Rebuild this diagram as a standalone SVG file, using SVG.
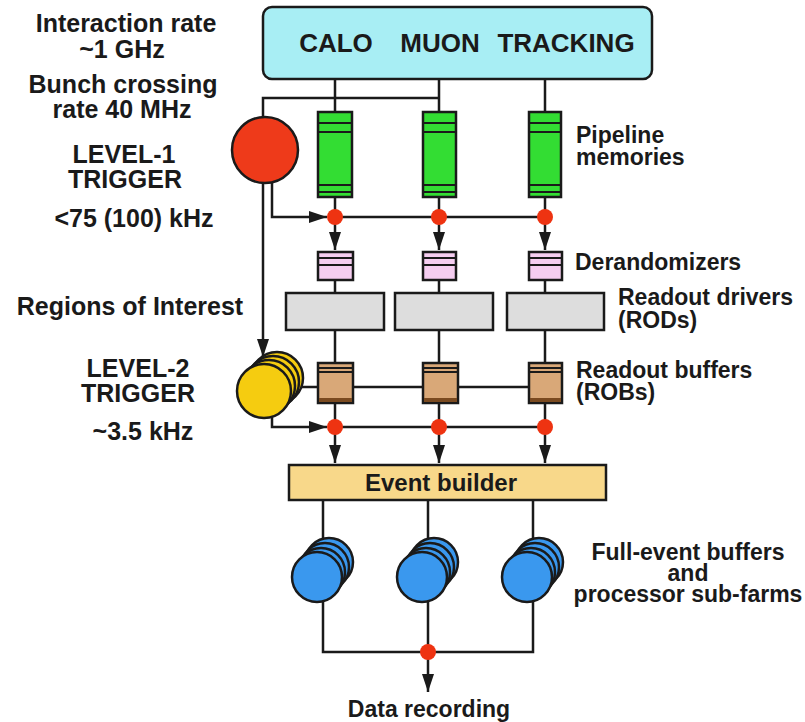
<svg xmlns="http://www.w3.org/2000/svg" width="805" height="722" viewBox="0 0 805 722">
<defs>
<style>
text{font-family:"Liberation Sans",Arial,sans-serif;font-weight:bold;fill:#1a1a1a}
.l{font-size:25px;text-anchor:middle}
.r{font-size:23px}
.ln{stroke:#1a1a1a;stroke-width:2.5;fill:none}
.bx{stroke:#1a1a1a;stroke-width:2.5}
.pipe{fill:#33dd33}
.der{fill:#f5cdf0}
.rod{fill:#dddddd}
.rob{fill:#d9a878}
.dot{fill:#ee3311}
.yel{fill:#f5cc10;stroke:#1a1a1a;stroke-width:2.5}
.blu{fill:#3a98ee;stroke:#1a1a1a;stroke-width:2.5}
.in{stroke:#1a1a1a;stroke-width:2}
</style>
<marker id="ah" viewBox="0 0 18 12" refX="18" refY="6" markerWidth="18" markerHeight="12" orient="auto" markerUnits="userSpaceOnUse">
<path d="M0,0 L18,6 L0,12 z" fill="#1a1a1a"/>
</marker>
</defs>
<rect width="805" height="722" fill="#ffffff"/>

<g id="connectors">
<path class="ln" d="M335,79 V112 M439,79 V112 M545,79 V112"/>
<path class="ln" d="M263,118 V98 H439"/>
<path class="ln" d="M335,197 V250" marker-end="url(#ah)"/>
<path class="ln" d="M439,197 V250" marker-end="url(#ah)"/>
<path class="ln" d="M545,197 V250" marker-end="url(#ah)"/>
<path class="ln" d="M272,183 V217 H327" marker-end="url(#ah)"/>
<path class="ln" d="M335,217 H545"/>
<path class="ln" d="M335,280 V293 M439,280 V293 M545,280 V293"/>
<path class="ln" d="M335,330 V363 M439,330 V363 M545,330 V363"/>
<path class="ln" d="M263,183 V357" marker-end="url(#ah)"/>
<path class="ln" d="M290,387 H545"/>
<path class="ln" d="M272,415 V427 H327" marker-end="url(#ah)"/>
<path class="ln" d="M335,427 H545"/>
<path class="ln" d="M335,403 V463" marker-end="url(#ah)"/>
<path class="ln" d="M439,403 V463" marker-end="url(#ah)"/>
<path class="ln" d="M545,403 V463" marker-end="url(#ah)"/>
<path class="ln" d="M323,500 V560 M428,500 V560 M533,500 V560"/>
<path class="ln" d="M323,598 V652 H533 V598 M428,598 V652"/>
<path class="ln" d="M428,652 V692" marker-end="url(#ah)"/>
</g>

<g id="detectors">
<rect x="263" y="7" width="389" height="72" rx="9" fill="#a8eef4" class="bx"/>
<text x="336" y="52" style="font-size:26px;text-anchor:middle">CALO</text>
<text x="440" y="52" style="font-size:26px;text-anchor:middle">MUON</text>
<text x="566" y="52" style="font-size:26px;text-anchor:middle">TRACKING</text>
</g>

<g id="level1-trigger">
<circle cx="265" cy="150" r="33" fill="#ee3a1a" class="bx"/>
</g>

<g id="pipelines">
<g id="pipe-1"><rect x="318" y="112" width="34" height="85" class="pipe bx"/><path class="in" d="M318,123 H352 M318,132 H352 M318,185 H352 M318,192 H352"/></g>
<g id="pipe-2"><rect x="423" y="112" width="33" height="85" class="pipe bx"/><path class="in" d="M423,123 H456 M423,132 H456 M423,185 H456 M423,192 H456"/></g>
<g id="pipe-3"><rect x="529" y="112" width="32" height="85" class="pipe bx"/><path class="in" d="M529,123 H561 M529,132 H561 M529,185 H561 M529,192 H561"/></g>
</g>

<g id="l1-dots">
<circle cx="335" cy="217" r="8" class="dot"/>
<circle cx="439" cy="217" r="8" class="dot"/>
<circle cx="545" cy="217" r="8" class="dot"/>
</g>

<g id="derandomizers">
<g id="der-1"><rect x="318" y="252" width="35" height="28" class="der bx"/><path class="in" d="M318,258 H353 M318,265 H353"/></g>
<g id="der-2"><rect x="423" y="252" width="33" height="28" class="der bx"/><path class="in" d="M423,258 H456 M423,265 H456"/></g>
<g id="der-3"><rect x="529" y="252" width="33" height="28" class="der bx"/><path class="in" d="M529,258 H562 M529,265 H562"/></g>
</g>

<g id="rods">
<rect id="rod-1" x="286" y="293" width="98" height="37" class="rod bx"/>
<rect id="rod-2" x="395" y="293" width="98" height="37" class="rod bx"/>
<rect id="rod-3" x="507" y="293" width="97" height="37" class="rod bx"/>
</g>

<g id="level2-trigger">
<circle cx="277" cy="378" r="26" class="yel"/>
<circle cx="273" cy="382" r="26" class="yel"/>
<circle cx="269" cy="386" r="26" class="yel"/>
<circle cx="264" cy="391" r="27" class="yel"/>
</g>

<g id="robs">
<g id="rob-1"><rect x="318" y="363" width="35" height="40" class="rob bx"/><path class="in" d="M318,368 H353 M318,372 H353"/><rect x="319" y="398" width="33" height="4" fill="#7a4a20"/></g>
<g id="rob-2"><rect x="423" y="363" width="35" height="40" class="rob bx"/><path class="in" d="M423,368 H458 M423,372 H458"/><rect x="424" y="398" width="33" height="4" fill="#7a4a20"/></g>
<g id="rob-3"><rect x="529" y="363" width="33" height="40" class="rob bx"/><path class="in" d="M529,368 H562 M529,372 H562"/><rect x="530" y="398" width="31" height="4" fill="#7a4a20"/></g>
</g>

<g id="l2-dots">
<circle cx="335" cy="427" r="8" class="dot"/>
<circle cx="439" cy="427" r="8" class="dot"/>
<circle cx="545" cy="427" r="8" class="dot"/>
</g>

<g id="event-builder">
<rect x="289" y="465" width="317" height="35" fill="#f8d88a" class="bx"/>
<text x="441" y="491" style="font-size:24px;text-anchor:middle">Event builder</text>
</g>

<g id="farm-1">
<circle cx="329" cy="562" r="24" class="blu"/>
<circle cx="325" cy="567" r="24" class="blu"/>
<circle cx="321" cy="572" r="24" class="blu"/>
<circle cx="317" cy="577" r="25" class="blu"/>
</g>
<g id="farm-2">
<circle cx="434" cy="562" r="24" class="blu"/>
<circle cx="430" cy="567" r="24" class="blu"/>
<circle cx="426" cy="572" r="24" class="blu"/>
<circle cx="422" cy="577" r="25" class="blu"/>
</g>
<g id="farm-3">
<circle cx="539" cy="562" r="24" class="blu"/>
<circle cx="535" cy="567" r="24" class="blu"/>
<circle cx="531" cy="572" r="24" class="blu"/>
<circle cx="527" cy="577" r="25" class="blu"/>
</g>

<g id="output-dot">
<circle cx="428" cy="652" r="8" class="dot"/>
</g>

<g id="labels-left">
<text class="l" x="126" y="32">Interaction rate</text>
<text class="l" x="122" y="58">~1 GHz</text>
<text class="l" x="123" y="93">Bunch crossing</text>
<text class="l" x="122" y="118">rate 40 MHz</text>
<text class="l" x="124" y="163">LEVEL-1</text>
<text class="l" x="125" y="188">TRIGGER</text>
<text class="l" x="134" y="227">&lt;75 (100) kHz</text>
<text class="l" x="130" y="315">Regions of Interest</text>
<text class="l" x="138" y="377">LEVEL-2</text>
<text class="l" x="138" y="402">TRIGGER</text>
<text class="l" x="143" y="440">~3.5 kHz</text>
</g>

<g id="labels-right">
<text class="r" x="576" y="143">Pipeline</text>
<text class="r" x="576" y="165">memories</text>
<text class="r" x="575" y="270">Derandomizers</text>
<text class="r" x="618" y="305">Readout drivers</text>
<text class="r" x="618" y="328">(RODs)</text>
<text class="r" x="576" y="378">Readout buffers</text>
<text class="r" x="576" y="400">(ROBs)</text>
<text class="r" x="688" y="560" text-anchor="middle">Full-event buffers</text>
<text class="r" x="688" y="581" text-anchor="middle">and</text>
<text class="r" x="688" y="602" text-anchor="middle">processor sub-farms</text>
<text class="r" x="429" y="717" text-anchor="middle">Data recording</text>
</g>
</svg>
